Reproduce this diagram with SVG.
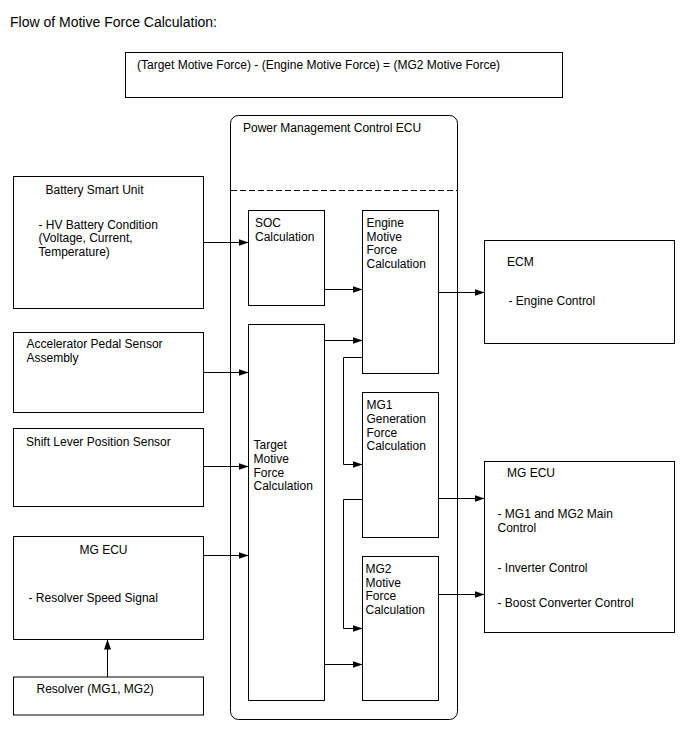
<svg xmlns="http://www.w3.org/2000/svg" width="688" height="755" viewBox="0 0 688 755">
<style>
  .box{fill:#fff;stroke:#000;stroke-width:1}
  .t{font-family:"Liberation Sans",Arial,sans-serif;font-size:12px;fill:#000}
  .title{font-family:"Liberation Sans",Arial,sans-serif;font-size:14px;fill:#000}
  .c{fill:none;stroke:#000;stroke-width:1;marker-end:url(#arr)}
</style>
<defs>
  <marker id="arr" markerUnits="userSpaceOnUse" markerWidth="10" markerHeight="8" refX="10" refY="3.5" orient="auto">
    <path d="M0,0 L10,3.5 L0,7 z" fill="#000"/>
  </marker>
</defs>
<rect width="688" height="755" fill="#fff"/>
<text class="title" x="10" y="26.5">Flow of Motive Force Calculation:</text>

<g id="formula">
  <rect class="box" x="125.5" y="52.5" width="437" height="45"/>
  <text class="t" x="137" y="68.5">(Target Motive Force) - (Engine Motive Force) = (MG2 Motive Force)</text>
</g>

<g id="pmc">
  <rect class="box" x="230.5" y="115.5" width="227" height="604" rx="8" ry="8"/>
  <text class="t" x="243" y="131.5">Power Management Control ECU</text>
  <line x1="231" y1="190.5" x2="457" y2="190.5" stroke="#000" stroke-width="1" stroke-dasharray="6 3"/>
</g>

<g id="battery">
  <rect class="box" x="13.5" y="176.5" width="190" height="132"/>
  <text class="t" x="45.5" y="194">Battery Smart Unit</text>
  <text class="t" x="38.5" y="228.5">- HV Battery Condition</text>
  <text class="t" x="38.5" y="242.3">(Voltage, Current,</text>
  <text class="t" x="38.5" y="256.1">Temperature)</text>
</g>

<g id="accel">
  <rect class="box" x="13.5" y="332.5" width="190" height="80"/>
  <text class="t" x="26.5" y="348.3">Accelerator Pedal Sensor</text>
  <text class="t" x="26.5" y="362.1">Assembly</text>
</g>

<g id="shift">
  <rect class="box" x="13.5" y="428.5" width="190" height="78"/>
  <text class="t" x="26" y="446">Shift Lever Position Sensor</text>
</g>

<g id="mgecu-left">
  <rect class="box" x="13.5" y="536.5" width="190" height="103"/>
  <text class="t" x="79.5" y="554">MG ECU</text>
  <text class="t" x="28.5" y="602">- Resolver Speed Signal</text>
</g>

<g id="resolver">
  <rect class="box" x="13.5" y="677" width="190" height="38"/>
  <text class="t" x="36.5" y="693.3">Resolver (MG1, MG2)</text>
</g>

<g id="soc">
  <rect class="box" x="248.5" y="210.5" width="76" height="95"/>
  <text class="t" x="255" y="226.7">SOC</text>
  <text class="t" x="255" y="240.5">Calculation</text>
</g>

<g id="engine">
  <rect class="box" x="362.5" y="210.5" width="76" height="163"/>
  <text class="t" x="366.5" y="226.7">Engine</text>
  <text class="t" x="366.5" y="240.5">Motive</text>
  <text class="t" x="366.5" y="254.3">Force</text>
  <text class="t" x="366.5" y="268.1">Calculation</text>
</g>

<g id="target">
  <rect class="box" x="248.5" y="324.5" width="76" height="376"/>
  <text class="t" x="253.5" y="449">Target</text>
  <text class="t" x="253.5" y="462.8">Motive</text>
  <text class="t" x="253.5" y="476.6">Force</text>
  <text class="t" x="253.5" y="490.4">Calculation</text>
</g>

<g id="mg1">
  <rect class="box" x="362.5" y="392.5" width="76" height="145"/>
  <text class="t" x="366.5" y="409">MG1</text>
  <text class="t" x="366.5" y="422.8">Generation</text>
  <text class="t" x="366.5" y="436.6">Force</text>
  <text class="t" x="366.5" y="450.4">Calculation</text>
</g>

<g id="mg2">
  <rect class="box" x="362.5" y="556.5" width="76" height="144"/>
  <text class="t" x="365.5" y="572.7">MG2</text>
  <text class="t" x="365.5" y="586.5">Motive</text>
  <text class="t" x="365.5" y="600.3">Force</text>
  <text class="t" x="365.5" y="614.1">Calculation</text>
</g>

<g id="ecm">
  <rect class="box" x="484.5" y="240.5" width="190" height="103"/>
  <text class="t" x="507" y="266">ECM</text>
  <text class="t" x="508.5" y="305">- Engine Control</text>
</g>

<g id="mgecu-right">
  <rect class="box" x="484.5" y="461.5" width="190" height="171"/>
  <text class="t" x="507" y="477">MG ECU</text>
  <text class="t" x="497.5" y="518.3">- MG1 and MG2 Main</text>
  <text class="t" x="497.5" y="532.1">Control</text>
  <text class="t" x="497.5" y="572.3">- Inverter Control</text>
  <text class="t" x="497.5" y="606.7">- Boost Converter Control</text>
</g>

<g id="connectors">
  <line class="c" x1="203.5" y1="242.5" x2="248.5" y2="242.5"/>
  <line class="c" x1="324.5" y1="289.5" x2="362.5" y2="289.5"/>
  <line class="c" x1="438.5" y1="292.5" x2="484.5" y2="292.5"/>
  <line class="c" x1="203.5" y1="372.5" x2="248.5" y2="372.5"/>
  <line class="c" x1="203.5" y1="466.5" x2="248.5" y2="466.5"/>
  <line class="c" x1="203.5" y1="555.5" x2="248.5" y2="555.5"/>
  <line class="c" x1="107.5" y1="677" x2="107.5" y2="639.5"/>
  <line class="c" x1="324.5" y1="340.5" x2="362.5" y2="340.5"/>
  <polyline class="c" points="362.5,357.5 343.5,357.5 343.5,464.5 362.5,464.5"/>
  <line class="c" x1="438.5" y1="498.5" x2="484.5" y2="498.5"/>
  <polyline class="c" points="362.5,499.5 343.5,499.5 343.5,628.5 362.5,628.5"/>
  <line class="c" x1="324.5" y1="664.5" x2="362.5" y2="664.5"/>
  <line class="c" x1="438.5" y1="594.5" x2="484.5" y2="594.5"/>
</g>
</svg>
